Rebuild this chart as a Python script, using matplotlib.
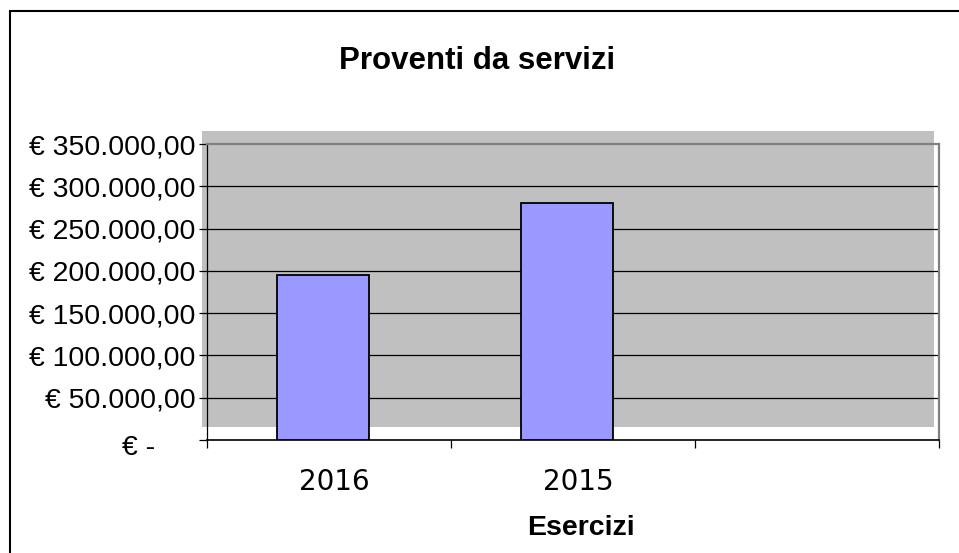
"""
Proventi da servizi - grafico a barre stile foglio di calcolo
"""
import matplotlib.pyplot as plt
from matplotlib.patches import Rectangle
from matplotlib.transforms import ScaledTranslation

# dati
esercizi = ['2016', '2015', '']
proventi = [195000, 280000]
y_ticks = [0, 50000, 100000, 150000, 200000, 250000, 300000, 350000]


def formato_euro(v):
    """Formato contabile italiano"""
    if v == 0:
        return '€ -'
    s = f'{v:,.2f}'.replace(',', 'X').replace('.', ',').replace('X', '.')
    return '€ ' + s


W, H = 959, 553
fig = plt.figure(figsize=(W / 100, H / 100), dpi=100)

# riquadro esterno del grafico
fig.patches.append(Rectangle((10, -20), 1000, H - 11 + 20, transform=None,
                             fill=False, edgecolor='black', linewidth=1.5))

# area del tracciato (pixel)
x0, x1, y_top, y_bot = 207, 939, 144, 440
ax = fig.add_axes([x0 / W, 1 - y_bot / H, (x1 - x0) / W, (y_bot - y_top) / H])
ax.set_facecolor('none')
ax.set_zorder(2)

# sfondo grigio spostato (come nell'originale)
fig.patches.append(Rectangle((x0 - 5, H - y_bot + 13), x1 - x0, y_bot - y_top,
                             transform=None, facecolor='#c0c0c0',
                             edgecolor='none', zorder=0))

ax.set_xlim(0, len(esercizi))
ax.set_ylim(0, 350000)

# griglia
for v in y_ticks[1:-1]:
    ax.axhline(v, color='black', linewidth=0.9, zorder=1)

pos = [i + 0.475 for i in range(len(proventi))]
ax.bar(pos, proventi, width=0.38, color='#9999ff', edgecolor='black',
       linewidth=1.3, zorder=3)

# assi
ax.spines['left'].set_color('black')
ax.spines['left'].set_linewidth(0.9)
ax.spines['bottom'].set_color('black')
ax.spines['bottom'].set_linewidth(1.2)
for s in ['top', 'right']:
    ax.spines[s].set_color('#808080')
    ax.spines[s].set_linewidth(1.6)

ax.set_yticks(y_ticks)
ax.set_yticklabels([formato_euro(v) for v in y_ticks],
                   fontsize=20.5, family='Liberation Sans')
ax.tick_params(axis='y', length=6, width=0.9, color='black', pad=2.5)
# etichetta dello zero spostata a sinistra
lbl0 = ax.get_yticklabels()[0]
lbl0.set_transform(lbl0.get_transform() +
                   ScaledTranslation(-40 / 100, -5 / 100, fig.dpi_scale_trans))

ax.set_xticks(range(len(esercizi) + 1))
ax.set_xticklabels([])
ax.set_xticks([i + 0.52 for i in range(len(esercizi))], minor=True)
ax.set_xticklabels(esercizi, minor=True, fontsize=20, family='DejaVu Sans')
ax.tick_params(axis='x', which='major', length=6, width=0.9, color='black')
ax.tick_params(axis='x', which='minor', length=0, pad=20)

fig.text(477.5 / W, 1 - 61 / H, 'Proventi da servizi', ha='center', va='center',
         fontsize=22.5, fontweight='bold', family='Liberation Sans')
fig.text(581 / W, 1 - 528 / H, 'Esercizi', ha='center', va='center',
         fontsize=20.5, fontweight='bold', family='Liberation Sans')

fig.savefig('out.png', dpi=100)
